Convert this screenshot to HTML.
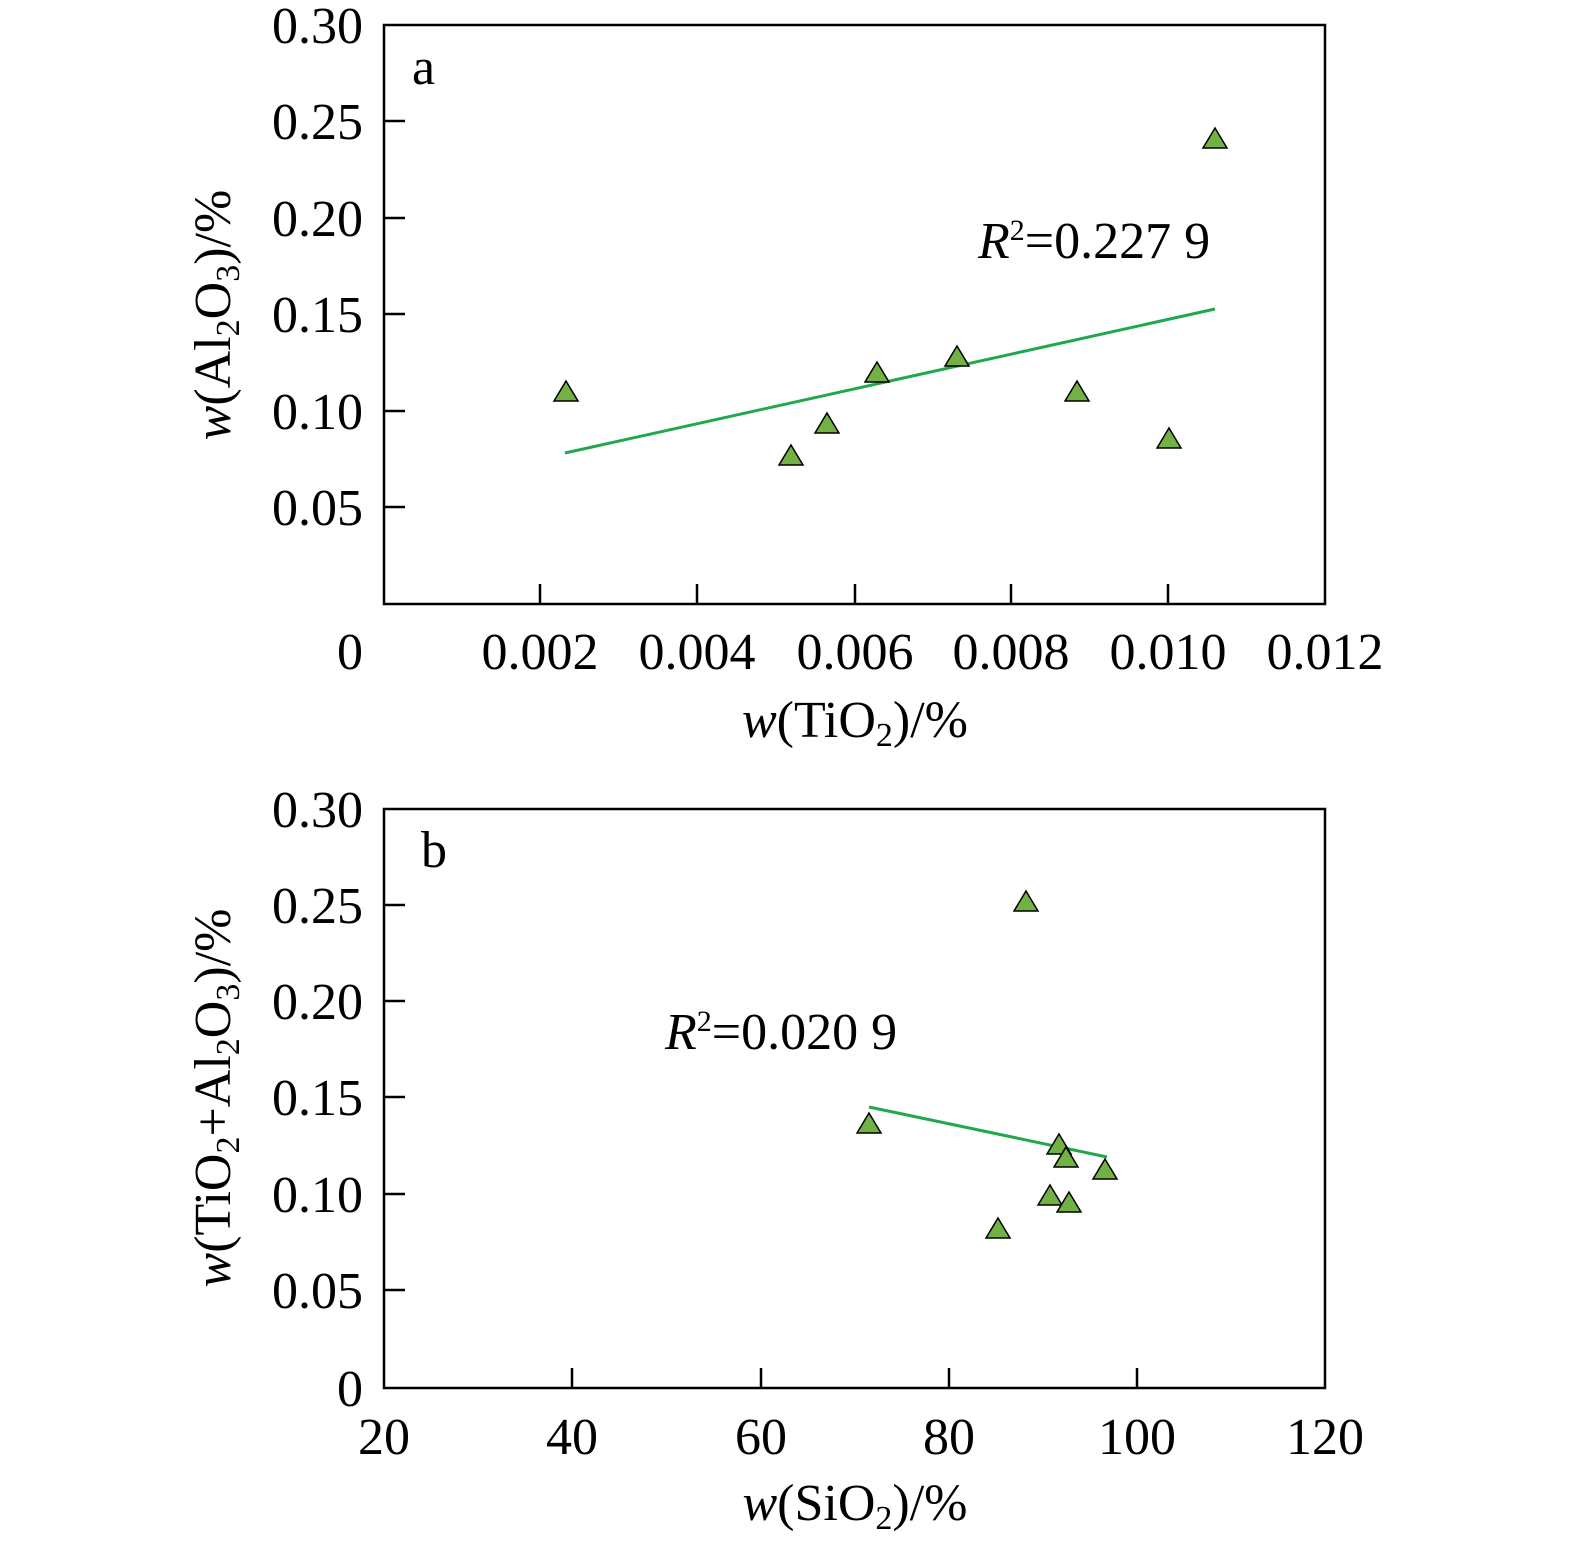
<!DOCTYPE html>
<html><head><style>body{margin:0;background:#fff}</style></head><body>
<svg width="1575" height="1556" xmlns="http://www.w3.org/2000/svg" font-family="Liberation Serif, serif" fill="#000">
<defs><path id="t" d="M0,-11 L12,9 L-12,9 Z" fill="#72b244" stroke="#000" stroke-width="1.5"/></defs>
<!-- Panel a -->
<rect x="384" y="25" width="941" height="579" fill="none" stroke="#000" stroke-width="2.5"/>
<g stroke="#000" stroke-width="2.5">
<line x1="384" y1="121" x2="405" y2="121"/><line x1="384" y1="218" x2="405" y2="218"/><line x1="384" y1="314" x2="405" y2="314"/><line x1="384" y1="411" x2="405" y2="411"/><line x1="384" y1="507" x2="405" y2="507"/>
<line x1="540" y1="604" x2="540" y2="584"/><line x1="697" y1="604" x2="697" y2="584"/><line x1="855" y1="604" x2="855" y2="584"/><line x1="1011" y1="604" x2="1011" y2="584"/><line x1="1168" y1="604" x2="1168" y2="584"/>
</g>
<g font-size="52" text-anchor="end">
<text x="363" y="43">0.30</text><text x="363" y="139">0.25</text><text x="363" y="236">0.20</text><text x="363" y="332">0.15</text><text x="363" y="429">0.10</text><text x="363" y="525">0.05</text><text x="363" y="669">0</text>
</g>
<g font-size="52" text-anchor="middle">
<text x="540" y="669">0.002</text><text x="697" y="669">0.004</text><text x="855" y="669">0.006</text><text x="1011" y="669">0.008</text><text x="1168" y="669">0.010</text><text x="1325" y="669">0.012</text>
<text x="855" y="737"><tspan font-style="italic">w</tspan>(TiO<tspan font-size="34" dy="9">2</tspan><tspan dy="-9">)/%</tspan></text>
</g>
<text font-size="52" transform="translate(230,315) rotate(-90)" text-anchor="middle"><tspan font-style="italic">w</tspan>(Al<tspan font-size="34" dy="9">2</tspan><tspan dy="-9">O</tspan><tspan font-size="34" dy="9">3</tspan><tspan dy="-9">)/%</tspan></text>
<text x="412" y="84" font-size="52">a</text>
<text x="978" y="258" font-size="52"><tspan font-style="italic">R</tspan><tspan font-size="30" dy="-18">2</tspan><tspan dy="18">=0.227 9</tspan></text>
<line x1="565" y1="453" x2="1215" y2="309" stroke="#22a84a" stroke-width="3"/>
<use href="#t" x="566" y="392"/><use href="#t" x="791" y="456"/><use href="#t" x="827" y="424"/><use href="#t" x="877" y="373"/><use href="#t" x="957" y="357"/><use href="#t" x="1077" y="392"/><use href="#t" x="1169" y="439"/><use href="#t" x="1215" y="139"/>
<!-- Panel b -->
<rect x="384" y="809" width="941" height="579" fill="none" stroke="#000" stroke-width="2.5"/>
<g stroke="#000" stroke-width="2.5">
<line x1="384" y1="905" x2="405" y2="905"/><line x1="384" y1="1001" x2="405" y2="1001"/><line x1="384" y1="1097" x2="405" y2="1097"/><line x1="384" y1="1194" x2="405" y2="1194"/><line x1="384" y1="1290" x2="405" y2="1290"/>
<line x1="572" y1="1388" x2="572" y2="1368"/><line x1="761" y1="1388" x2="761" y2="1368"/><line x1="949" y1="1388" x2="949" y2="1368"/><line x1="1137" y1="1388" x2="1137" y2="1368"/>
</g>
<g font-size="52" text-anchor="end">
<text x="363" y="827">0.30</text><text x="363" y="923">0.25</text><text x="363" y="1019">0.20</text><text x="363" y="1115">0.15</text><text x="363" y="1212">0.10</text><text x="363" y="1308">0.05</text><text x="363" y="1406">0</text>
</g>
<g font-size="52" text-anchor="middle">
<text x="384" y="1454">20</text><text x="572" y="1454">40</text><text x="761" y="1454">60</text><text x="949" y="1454">80</text><text x="1137" y="1454">100</text><text x="1325" y="1454">120</text>
<text x="855" y="1520"><tspan font-style="italic">w</tspan>(SiO<tspan font-size="34" dy="9">2</tspan><tspan dy="-9">)/%</tspan></text>
</g>
<text font-size="52" transform="translate(230,1098) rotate(-90)" text-anchor="middle"><tspan font-style="italic">w</tspan>(TiO<tspan font-size="34" dy="9">2</tspan><tspan dy="-9">+Al</tspan><tspan font-size="34" dy="9">2</tspan><tspan dy="-9">O</tspan><tspan font-size="34" dy="9">3</tspan><tspan dy="-9">)/%</tspan></text>
<text x="421" y="867" font-size="52">b</text>
<text x="665" y="1049" font-size="52"><tspan font-style="italic">R</tspan><tspan font-size="30" dy="-18">2</tspan><tspan dy="18">=0.020 9</tspan></text>
<line x1="869" y1="1107" x2="1107" y2="1157" stroke="#22a84a" stroke-width="3"/>
<use href="#t" x="869" y="1124"/><use href="#t" x="1026" y="902"/><use href="#t" x="1059" y="1145"/><use href="#t" x="1066" y="1158"/><use href="#t" x="1050" y="1196"/><use href="#t" x="1069" y="1203"/><use href="#t" x="998" y="1229"/><use href="#t" x="1105" y="1170"/>
</svg>
</body></html>
